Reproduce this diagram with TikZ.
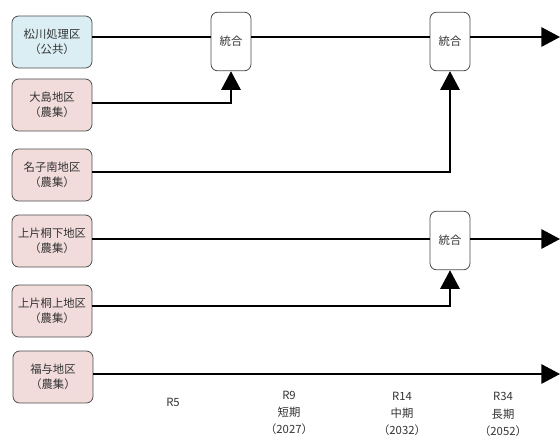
\documentclass[tikz,border=0pt]{standalone}
\usepackage{fontspec}
\setmainfont{Noto Sans CJK JP}
\usetikzlibrary{arrows.meta,calc,positioning}
\tikzset{
  area/.style={draw=black!70,rounded corners=5pt,minimum width=60pt,minimum height=39pt,align=center,
    font=\fontsize{8.5}{11}\selectfont,text=black!80,line width=0.6pt,inner sep=1pt},
  merge/.style={draw=black!70,fill=white,rounded corners=5pt,minimum width=30pt,minimum height=44pt,
    font=\fontsize{8.5}{10}\selectfont,text=black!80,line width=0.6pt},
  year/.style={align=center,font=\fontsize{8.5}{13}\selectfont,text=black!80,inner sep=0pt}
}
\definecolor{koukyo}{HTML}{DAEEF3}
\definecolor{nousyu}{HTML}{F2DCDB}

\begin{document}
\begin{tikzpicture}[x=0.75pt,y=-0.75pt,>={Triangle[length=14pt,width=14.5pt]},line width=1.5pt]
  \useasboundingbox (0,0) rectangle (560,437);

  \node[area,fill=koukyo] (b1) at (52,42) {松川処理区\\（公共）};
  \node[area,fill=nousyu] (b2) at (52,105) {大島地区\\（農集）};
  \node[area,fill=nousyu] (b3) at (52,175) {名子南地区\\（農集）};
  \node[area,fill=nousyu] (b4) at (52,241) {上片桐下地区\\（農集）};
  \node[area,fill=nousyu] (b5) at (52,311) {上片桐上地区\\（農集）};
  \node[area,fill=nousyu] (b6) at (53,377) {福与地区\\（農集）};

  \node[merge] (m1) at (231,41.5) {統合};
  \node[merge] (m2) at (450,41.5) {統合};
  \node[merge] (m3) at (450,240.5) {統合};

  \coordinate (r1) at (560,37);
  \coordinate (r4) at (560,239);
  \coordinate (r6) at (560,374);

  \draw (b1.east |- r1) -- (m1.west |- r1);
  \draw (m1.east |- r1) -- (m2.west |- r1);
  \draw[->] (m2.east |- r1) -- (r1);
  \draw[->] ([yshift=1.5pt]b2.east) -| (m1.south);
  \draw[->] ([yshift=2.25pt]b3.east) -| (m2.south);

  \draw (b4.east |- r4) -- (m3.west |- r4);
  \draw[->] (m3.east |- r4) -- (r4);
  \draw[->] ([yshift=3.75pt]b5.east) -| (m3.south);

  \draw[->] (b6.east |- r6) -- (r6);

  % time axis labels
  \node[year] (t5) at (173,402) {R5};
  \node[year] (t9) at (289,413) {R9\\短期\\（2027）};
  \node[year] (t14) at (402,414) {R14\\中期\\（2032）};
  \node[year] (t34) at (503,414.5) {R34\\長期\\（2052）};
\end{tikzpicture}
\end{document}
